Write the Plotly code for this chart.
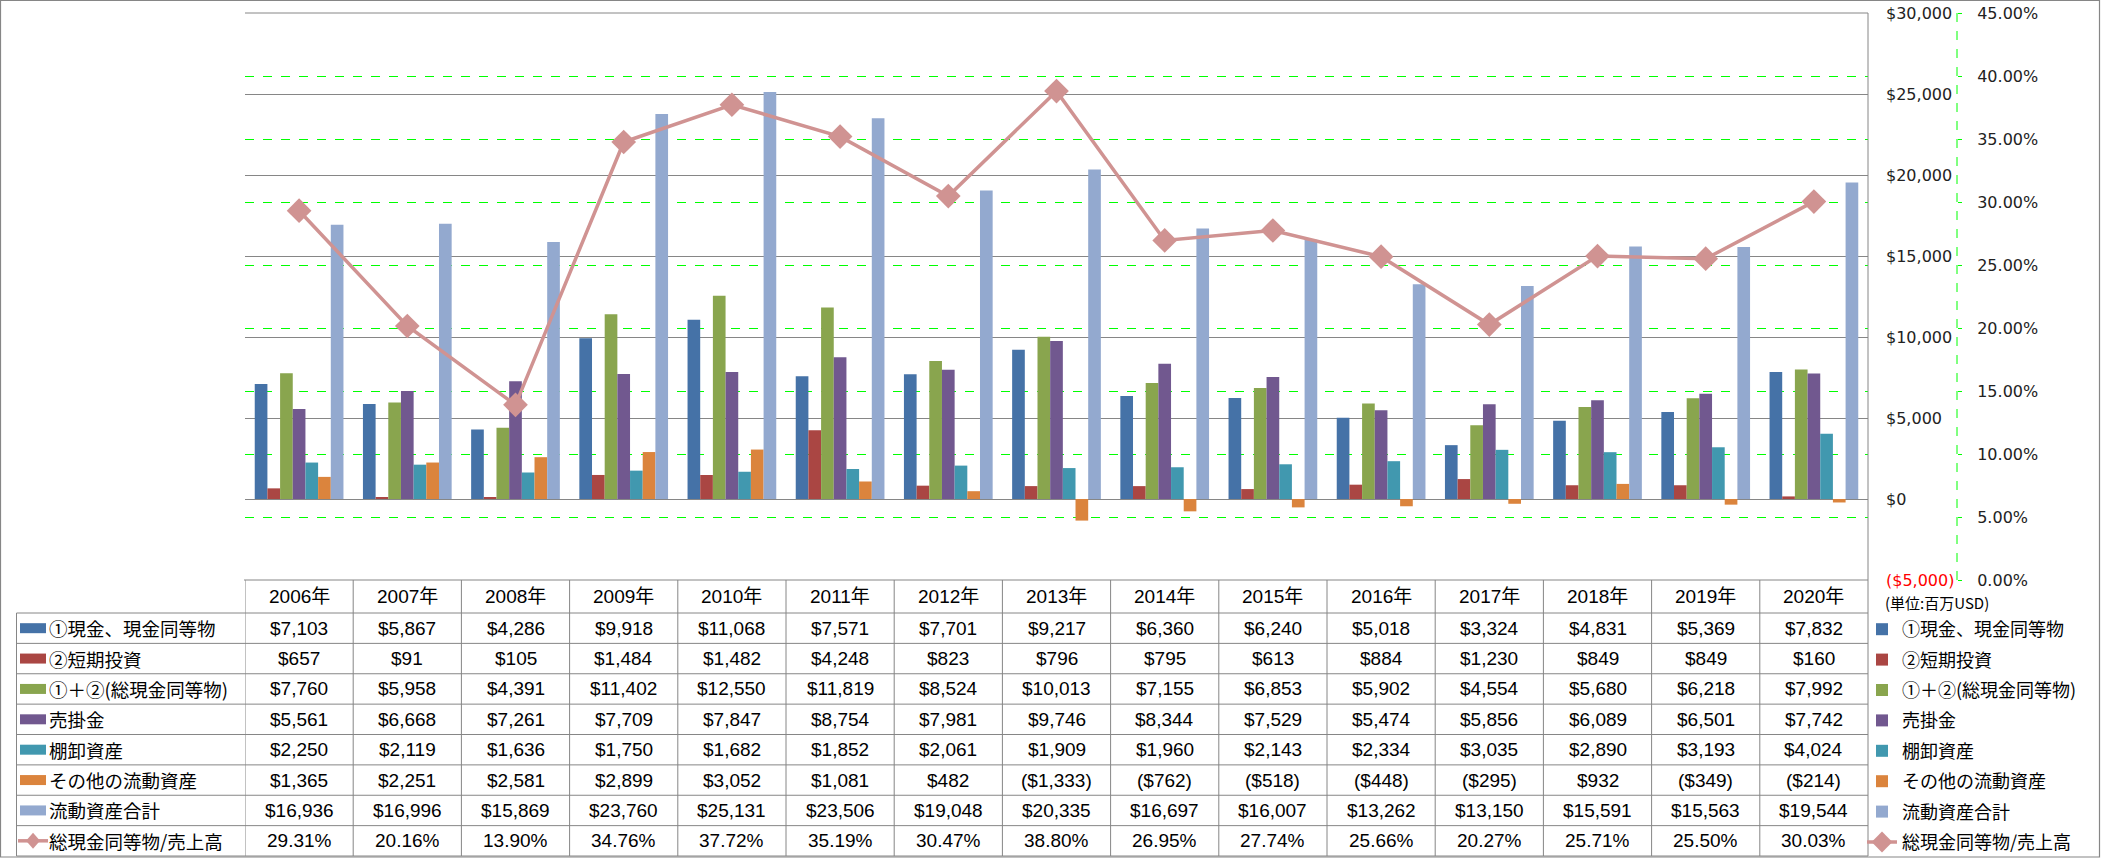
import plotly.graph_objects as go

# ---------------- data ----------------
years = ["2006年", "2007年", "2008年", "2009年", "2010年", "2011年", "2012年", "2013年",
         "2014年", "2015年", "2016年", "2017年", "2018年", "2019年", "2020年"]

cash = [7103, 5867, 4286, 9918, 11068, 7571, 7701, 9217, 6360, 6240, 5018, 3324, 4831, 5369, 7832]
short_inv = [657, 91, 105, 1484, 1482, 4248, 823, 796, 795, 613, 884, 1230, 849, 849, 160]
total_cash = [7760, 5958, 4391, 11402, 12550, 11819, 8524, 10013, 7155, 6853, 5902, 4554, 5680, 6218, 7992]
receivables = [5561, 6668, 7261, 7709, 7847, 8754, 7981, 9746, 8344, 7529, 5474, 5856, 6089, 6501, 7742]
inventory = [2250, 2119, 1636, 1750, 1682, 1852, 2061, 1909, 1960, 2143, 2334, 3035, 2890, 3193, 4024]
other_current = [1365, 2251, 2581, 2899, 3052, 1081, 482, -1333, -762, -518, -448, -295, 932, -349, -214]
current_total = [16936, 16996, 15869, 23760, 25131, 23506, 19048, 20335, 16697, 16007, 13262, 13150, 15591, 15563, 19544]
cash_ratio = [29.31, 20.16, 13.90, 34.76, 37.72, 35.19, 30.47, 38.80, 26.95, 27.74, 25.66, 20.27, 25.71, 25.50, 30.03]

series_names = ["①現金、現金同等物", "②短期投資", "①＋②(総現金同等物)", "売掛金",
                "棚卸資産", "その他の流動資産", "流動資産合計", "総現金同等物/売上高"]

y_ticks = [-5000, 0, 5000, 10000, 15000, 20000, 25000, 30000]
y2_ticks = [0.0, 0.05, 0.10, 0.15, 0.20, 0.25, 0.30, 0.35, 0.40, 0.45]
unit_note = "(単位:百万USD)"

# ---------------- styling ----------------
W, H = 2101, 858
colors = ["#4572A7", "#AA4643", "#89A54E", "#71588F", "#4198AF", "#DB843D", "#93A9CF"]
line_color = "#D09392"
grid_gray = "#868686"
green = "#00FF00"
table_font = dict(family="Liberation Sans, Noto Sans CJK JP", size=19, color="#000000")
axis_font = dict(family="DejaVu Sans, Verdana, sans-serif", size=16, color="#222222")
row_label_font = dict(family="Noto Sans CJK JP, Liberation Sans", size=18.5, color="#000000")
legend_font = dict(family="Noto Sans CJK JP, Liberation Sans", size=18, color="#000000")

PL, PR, PT, PB = 245, 1868, 13, 580
TABLE_LEFT = 16.5
HEADER_B = 613
TABLE_B = 856


def fx(x):
    return x / W


def fy(y):
    return 1 - y / H


def fmt_money(v):
    return f"${v:,}" if v >= 0 else f"(${-v:,})"


def fmt_pct(v):
    return f"{v:.2f}%"


bar_series = [cash, short_inv, total_cash, receivables, inventory, other_current, current_total]

fig = go.Figure()
for name, vals, col in zip(series_names[:7], bar_series, colors):
    fig.add_trace(go.Bar(
        x=years, y=vals, name=name, marker=dict(color=col, line=dict(width=0)),
        legendgroup=name, yaxis="y",
    ))

fig.add_trace(go.Scatter(
    x=years, y=[v / 100 for v in cash_ratio], name=series_names[7], yaxis="y2",
    mode="lines+markers", line=dict(color=line_color, width=3.5),
    marker=dict(symbol="diamond", size=19, color=line_color),
    legendgroup=series_names[7],
))

ticktext = []
for v in y_ticks:
    t = fmt_money(v)
    if v < 0:
        t = f"<span style='color:#FF0000'>{t}</span>"
    ticktext.append(t)

# ---------------- table ----------------
row_h = (TABLE_B - HEADER_B) / 8
row_centers = [HEADER_B + row_h * (i + 0.5) for i in range(8)]
row_bounds = [HEADER_B + row_h * i for i in range(9)]

table_rows = [
    [fmt_money(v) for v in cash],
    [fmt_money(v) for v in short_inv],
    [fmt_money(v) for v in total_cash],
    [fmt_money(v) for v in receivables],
    [fmt_money(v) for v in inventory],
    [fmt_money(v) for v in other_current],
    [fmt_money(v) for v in current_total],
    [fmt_pct(v) for v in cash_ratio],
]

annotations = []
for i, yr in enumerate(years):
    annotations.append(dict(x=yr, xref="x", y=fy((PB + HEADER_B) / 2), yref="paper",
                            text=yr, showarrow=False, font=table_font,
                            xanchor="center", yanchor="middle"))
for r, row in enumerate(table_rows):
    for i, yr in enumerate(years):
        annotations.append(dict(x=yr, xref="x", y=fy(row_centers[r]), yref="paper",
                                text=row[i], showarrow=False, font=table_font,
                                xanchor="center", yanchor="middle"))
    annotations.append(dict(x=fx(47), xref="paper", y=fy(row_centers[r]), yref="paper",
                            text=series_names[r], showarrow=False, font=row_label_font,
                            xanchor="left", yanchor="middle"))

annotations.append(dict(x=fx(1883), xref="paper", y=fy(602), yref="paper", text=unit_note,
                        showarrow=False, xanchor="left", yanchor="middle",
                        font=dict(family="Noto Sans CJK JP", size=15, color="#000000")))

line_style = dict(color=grid_gray, width=1)
shapes = []
# outer border
shapes.append(dict(type="rect", xref="paper", yref="paper", x0=fx(0.5), x1=fx(2099.5),
                   y0=fy(857), y1=fy(0.5), line=dict(color=grid_gray, width=1.2), layer="above"))
# plot area top + right border
shapes.append(dict(type="line", xref="paper", yref="paper", x0=fx(PL), x1=fx(PR),
                   y0=fy(PT), y1=fy(PT), line=line_style, layer="above"))
shapes.append(dict(type="line", xref="paper", yref="paper", x0=fx(PR), x1=fx(PR),
                   y0=fy(PT), y1=fy(TABLE_B), line=line_style, layer="above"))
# table horizontal lines
shapes.append(dict(type="line", xref="paper", yref="paper", x0=fx(PL - 1), x1=fx(PR),
                   y0=fy(PB), y1=fy(PB), line=line_style, layer="above"))
for yb in row_bounds:
    shapes.append(dict(type="line", xref="paper", yref="paper", x0=fx(TABLE_LEFT), x1=fx(PR),
                       y0=fy(yb), y1=fy(yb), line=line_style, layer="above"))
# table vertical lines
shapes.append(dict(type="line", xref="paper", yref="paper", x0=fx(TABLE_LEFT), x1=fx(TABLE_LEFT),
                   y0=fy(HEADER_B), y1=fy(TABLE_B), line=line_style, layer="above"))
for k in range(len(years)):
    shapes.append(dict(type="line", xref="x", yref="paper", x0=k - 0.5, x1=k - 0.5,
                       y0=fy(PB), y1=fy(TABLE_B), line=line_style, layer="above"))
# secondary axis dashed line
shapes.append(dict(type="line", xref="paper", yref="paper", x0=fx(1957), x1=fx(1957),
                   y0=fy(PT), y1=fy(PB), line=dict(color=green, width=1, dash="dash"), layer="above"))
# table legend swatches
for r in range(7):
    yc = row_centers[r]
    shapes.append(dict(type="rect", xref="paper", yref="paper", x0=fx(20), x1=fx(46),
                       y0=fy(yc + 5), y1=fy(yc - 5), fillcolor=colors[r],
                       line=dict(width=0), layer="above"))
yc = row_centers[7]
shapes.append(dict(type="line", xref="paper", yref="paper", x0=fx(18), x1=fx(48),
                   y0=fy(yc), y1=fy(yc), line=dict(color=line_color, width=3.5), layer="above"))
shapes.append(dict(type="path", xref="paper", yref="paper",
                   path=f"M {fx(33)} {fy(yc - 8)} L {fx(40)} {fy(yc)} L {fx(33)} {fy(yc + 8)} L {fx(26)} {fy(yc)} Z",
                   fillcolor=line_color, line=dict(width=0), layer="above"))

fig.update_layout(
    width=W, height=H,
    margin=dict(l=0, r=0, t=0, b=0, autoexpand=False),
    paper_bgcolor="white", plot_bgcolor="white",
    barmode="group", bargap=0.18, bargroupgap=0,
    xaxis=dict(domain=[fx(PL), fx(PR)], type="category", range=[-0.5, 14.5],
               showticklabels=False, showgrid=False, zeroline=False, showline=False, ticks=""),
    yaxis=dict(domain=[fy(PB), fy(PT)], range=[-5000, 30000], tickvals=y_ticks, ticktext=ticktext,
               side="right", anchor="free", position=fx(1885), showgrid=True, gridcolor=grid_gray,
               gridwidth=1, zeroline=False, showline=False, ticks="", tickfont=axis_font),
    yaxis2=dict(overlaying="y", range=[0, 0.45], tickvals=y2_ticks, tickformat=".2%",
                side="right", anchor="free", position=fx(1957), showgrid=True, gridcolor=green,
                griddash="dash", gridwidth=1, zeroline=False, showline=False, ticks="outside",
                ticklen=4, tickcolor=green, tickfont=axis_font, ticklabelstandoff=12),
    legend=dict(x=fx(1862), y=fy(611), xanchor="left", yanchor="top", font=legend_font,
                tracegroupgap=4, bgcolor="rgba(0,0,0,0)", borderwidth=0, itemwidth=30),
    showlegend=True,
    annotations=annotations,
    shapes=shapes,
)

fig.write_html("out.html", config={"displayModeBar": False},
               post_script="document.body.style.margin='0';document.body.style.overflow='hidden';")
